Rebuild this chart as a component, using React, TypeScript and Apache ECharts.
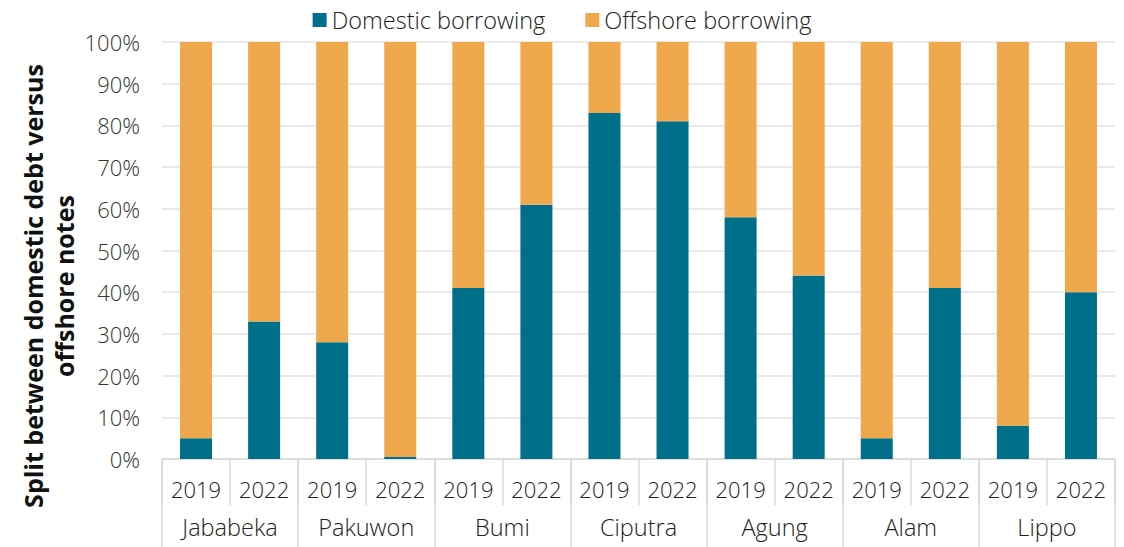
import React, { useEffect, useRef } from "react";
import * as echarts from "echarts";

const years = ["2019", "2022", "2019", "2022", "2019", "2022", "2019", "2022", "2019", "2022", "2019", "2022", "2019", "2022"];
const companies = ["Jababeka", "Pakuwon", "Bumi", "Ciputra", "Agung", "Alam", "Lippo"];
const domestic = [5, 33, 28, 0.5, 41, 61, 83, 81, 58, 44, 5, 41, 8, 40];
const offshore = [95, 67, 72, 99.5, 59, 39, 17, 19, 42, 56, 95, 59, 92, 60];
const yTicks = [0, 10, 20, 30, 40, 50, 60, 70, 80, 90, 100];

const FONT = "Open Sans";

export default function App() {
  const ref = useRef<HTMLDivElement>(null);
  useEffect(() => {
    const chart = echarts.init(ref.current!, null, { renderer: "svg" });
    chart.setOption({
      animation: false,
      textStyle: { fontFamily: FONT },
      legend: {
        top: 3,
        left: "center",
        itemWidth: 14,
        itemHeight: 14,
        itemGap: 40,
        icon: "rect",
        textStyle: { fontSize: 23.5, color: "#222", fontFamily: FONT, fontWeight: 300 },
        data: ["Domestic borrowing", "Offshore borrowing"],
      },
      grid: { left: 162, right: 9, top: 42, bottom: 88, containLabel: false },
      xAxis: [
        {
          type: "category",
          data: years,
          position: "bottom",
          axisLine: { show: true, lineStyle: { color: "#d9d9d9", width: 1.5 } },
          axisTick: { show: true, length: 46, lineStyle: { color: "#d9d9d9", width: 1.5 } },
          axisLabel: { fontSize: 22, color: "#222", margin: 19, fontFamily: FONT, fontWeight: 300 },
        },
        {
          type: "category",
          data: companies,
          position: "bottom",
          offset: 0,
          axisLine: { show: false },
          axisTick: { show: true, length: 90, lineStyle: { color: "#d9d9d9", width: 1.5 } },
          axisLabel: { fontSize: 23.5, color: "#222", margin: 56, fontFamily: FONT, fontWeight: 300 },
        },
      ],
      yAxis: {
        type: "value",
        min: 0,
        max: 100,
        interval: 10,
        axisLine: { show: false },
        axisTick: { show: false },
        splitLine: { lineStyle: { color: "#e3e3e3", width: 1.5 } },
        axisLabel: {
          fontSize: 22,
          color: "#333",
          margin: 22,
          fontFamily: FONT,
          fontWeight: 300,
          formatter: (v: number) => (yTicks.includes(v) ? v + "%" : ""),
        },
      },
      graphic: [
        {
          type: "text",
          x: 48,
          y: 286,
          rotation: Math.PI / 2,
          style: {
            text: "Split between domestic debt versus\noffshore notes",
            fontSize: 25,
            fontWeight: "bold",
            fontFamily: FONT,
            fill: "#111",
            textAlign: "center",
            textVerticalAlign: "middle",
            lineHeight: 31,
          },
        },
      ],
      series: [
        {
          name: "Domestic borrowing",
          type: "bar",
          stack: "total",
          xAxisIndex: 0,
          barWidth: 32,
          data: domestic,
          itemStyle: { color: "#006F8A" },
        },
        {
          name: "Offshore borrowing",
          type: "bar",
          stack: "total",
          xAxisIndex: 0,
          barWidth: 32,
          data: offshore,
          itemStyle: { color: "#F0A84C" },
        },
      ],
    });
    return () => chart.dispose();
  }, []);
  return <div ref={ref} style={{ width: 1124, height: 547, position: "absolute", left: 0, top: 0 }} />;
}
